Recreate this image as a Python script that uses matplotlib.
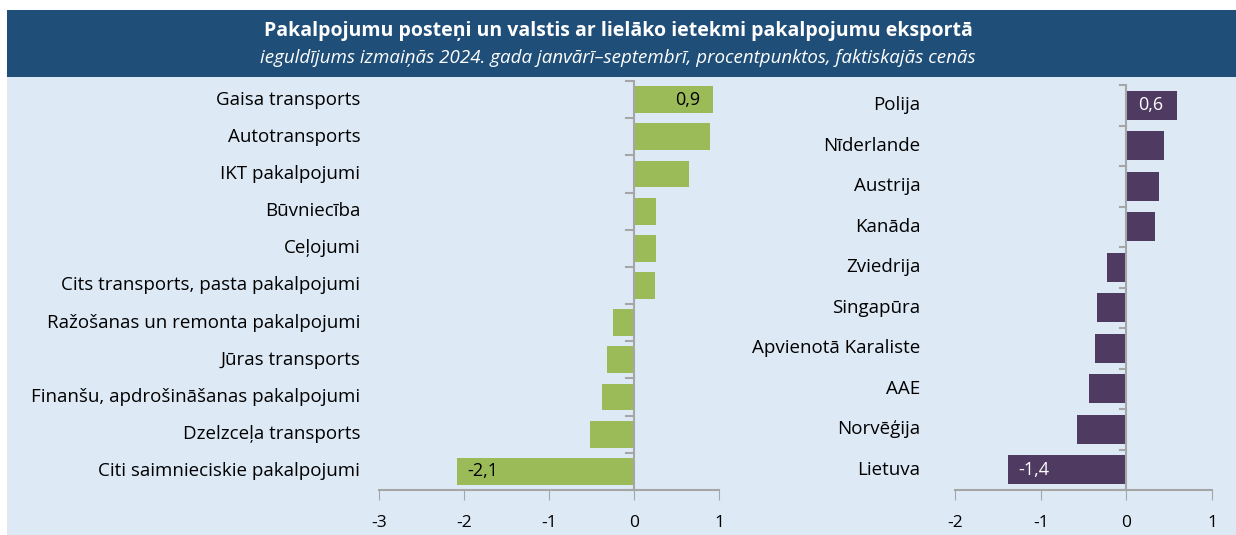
import matplotlib.pyplot as plt
from matplotlib.patches import Rectangle

plt.rcParams['font.family'] = ['Open Sans', 'DejaVu Sans']

title = "Pakalpojumu posteņi un valstis ar lielāko ietekmi pakalpojumu eksportā"
subtitle = "ieguldījums izmaiņās 2024. gada janvārī–septembrī, procentpunktos, faktiskajās cenās"

services = ["Gaisa transports", "Autotransports", "IKT pakalpojumi", "Būvniecība",
            "Ceļojumi", "Cits transports, pasta pakalpojumi",
            "Ražošanas un remonta pakalpojumi", "Jūras transports",
            "Finanšu, apdrošināšanas pakalpojumi", "Dzelzceļa transports",
            "Citi saimnieciskie pakalpojumi"]
services_val = [0.93, 0.89, 0.65, 0.26, 0.26, 0.25, -0.25, -0.32, -0.38, -0.52, -2.08]
services_lbl = {0: "0,9", 10: "-2,1"}

countries = ["Polija", "Nīderlande", "Austrija", "Kanāda", "Zviedrija", "Singapūra",
             "Apvienotā Karaliste", "AAE", "Norvēģija", "Lietuva"]
countries_val = [0.59, 0.44, 0.38, 0.34, -0.23, -0.34, -0.37, -0.44, -0.58, -1.38]
countries_lbl = {0: "0,6", 9: "-1,4"}

W, H = 1236, 535
bg = "#dde9f5"
header = "#1f4e78"
green = "#9bbb59"
purple = "#4f3b62"
grey = "#a6a6a6"

fig = plt.figure(figsize=(W / 100, H / 100), dpi=100)
fig.patch.set_facecolor("white")
fig.patches.append(Rectangle((7 / W, 0), 1, (H - 77) / H, transform=fig.transFigure,
                             facecolor=bg, edgecolor="none", zorder=-2))
fig.patches.append(Rectangle((7 / W, (H - 77) / H), 1, 67 / H, transform=fig.transFigure,
                             facecolor=header, edgecolor="none", zorder=-2))
fig.text(0.5, (H - 31) / H, title, color="white", fontsize=14, fontweight="bold",
         ha="center", va="center")
fig.text(0.5, (H - 58) / H, subtitle, color="white", fontsize=13.5, style="italic",
         ha="center", va="center")


def panel(rect, cats, vals, lbls, color, txtcol, xlim, ticks, lab_x):
    ax = fig.add_axes(rect)
    ax.set_facecolor("none")
    n = len(cats)
    ypos = list(range(n))
    ax.barh(ypos, vals, height=0.72, color=color, zorder=2)
    ax.set_xlim(*xlim)
    ax.set_ylim(n - 0.5, -0.5)
    ax.set_xticks(ticks)
    ax.set_xticklabels([str(t) for t in ticks], fontsize=12.5)
    ax.tick_params(axis="x", direction="out", length=7, color=grey, pad=11)
    ax.set_yticks([])
    for s in ["top", "right", "left"]:
        ax.spines[s].set_visible(False)
    ax.spines["bottom"].set_color(grey)
    ax.spines["bottom"].set_linewidth(1.5)
    ax.axvline(0, color=grey, lw=1.5, zorder=3)
    for i in range(n + 1):
        ax.plot([-0.1 * (xlim[1] - xlim[0]) / 4, 0], [i - 0.5, i - 0.5], color=grey,
                lw=1.5, zorder=3, clip_on=False)
    for i, c in enumerate(cats):
        ax.text(lab_x, i, c, transform=ax.get_yaxis_transform(), ha="right",
                va="center", fontsize=13.5)
    for i, t in lbls.items():
        v = vals[i]
        x = v - 0.3 if v > 0 else v + 0.3
        ax.text(x, i, t, ha="center", va="center", fontsize=13, color=txtcol, zorder=4)
    return ax


panel([379 / W, 45 / H, 340 / W, 409 / H], services, services_val, services_lbl,
      green, "black", (-3, 1), [-3, -2, -1, 0, 1], -0.055)
panel([955 / W, 45 / H, 257 / W, 405 / H], countries, countries_val, countries_lbl,
      purple, "white", (-2, 1), [-2, -1, 0, 1], -0.135)

fig.savefig("out.png", dpi=100)
